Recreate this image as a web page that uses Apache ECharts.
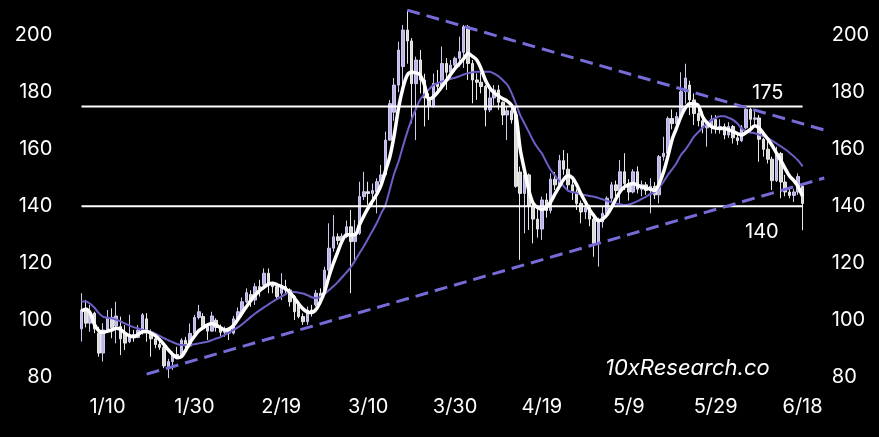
<!DOCTYPE html>
<html>
<head>
<meta charset="utf-8">
<script src="https://cdn.jsdelivr.net/npm/echarts@6/dist/echarts.min.js"></script>
<style>
html,body{margin:0;padding:0;background:#000;}
#chart{width:879px;height:437px;}
</style>
</head>
<body>
<div id="chart"></div>
<script>
// ---- data ----
const startDate = [2024, 0, 4];
const categoryCount = 173;
const xTickLabels = ['1/10','1/30','2/19','3/10','3/30','4/19','5/9','5/29','6/18'];
const yTicks = [80,100,120,140,160,180,200];
// [open, close, low, high]
const candles = [
[97,103.6,92.5,109.5],[104.2,99,97.5,107.1],[99,102.5,96,105.4],[102.5,97,95.5,103],[95.5,88.5,87.2,97.7],
[88.5,96.6,85.5,99],[96.6,101,96.6,103.6],[101,97.5,93.7,104.2],[98,101.5,91.9,106.5],[97.8,93.5,87.8,101.3],
[95.5,92,89.6,98.3],[92.5,95,92,101.9],[95,94,92.5,96.6],[94,96.5,93.7,98.3],[96.6,101.9,95,102.5],
[100.5,96.6,92.5,102.5],[95.5,93.5,87.2,96.8],[93.5,91.5,90.2,94.8],[91.5,90.5,89.6,93.1],[90.5,84,83.2,91.3],
[83.5,85.5,79.7,86.5],[85.5,88,82.6,89],[88,87.5,86.5,90.7],[87.5,93,87.2,93.7],[93,91,89.6,94.2],
[91,95.4,90.5,98.9],[95.4,101,95,101.9],[101,103,100.3,105.4],[101.3,97.8,96.6,102.5],[97.8,96.2,93.1,98.9],
[96.2,101.5,96,103],[100,97.5,96,100.7],[97.5,95.8,94.5,98.5],[95.8,96.8,94.2,97.8],[96.8,95.5,93.1,97.5],
[95.5,100.5,95,101.5],[100.5,103,99.8,104.5],[102.4,106.5,101.3,108],[106.5,109.7,106,111.2],[109,107,104.7,110.5],
[107.1,111.8,105.4,113],[111.8,111,108.3,114.2],[112.4,116.5,111.8,118.2],[116.5,113,109.5,118.2],[113,111.8,109.5,113.5],
[111.8,108.3,107.1,111.8],[109.5,111.8,107.1,116.5],[111.8,110.6,109.5,114.2],[110.6,106.5,104.8,111.2],[108.3,103,100.1,108.9],
[105.4,101.3,100.7,106.5],[101.3,99.5,98.4,102.4],[99.5,103.6,98.4,104.8],[103.6,102.5,101.3,105.4],[105.4,109.5,104.8,110.6],
[109.5,107.1,106.5,111.2],[110.6,117.6,109.5,118.8],[117.6,125.3,116.5,134],[125.3,129.3,124.1,136.9],[129.3,128,126.5,130.5],
[128,129.5,127.5,130.5],[129.3,132.8,128.8,135],[132.8,127.6,109.5,138.7],[127.6,130.5,121.2,135.2],[130.5,143.4,129.9,148.6],
[143.4,145.1,142.2,152.1],[145.1,144.5,140.5,148.6],[144.5,145.5,140.5,148],[145.1,148.6,137.5,149.8],[148.6,151,146.5,154.5],
[151,163.2,150.5,166.2],[163.2,176,163,177.3],[173,182.5,170,185],[182.5,194.8,180,197.7],[189,201.8,182,203.6],
[201.8,198,190,208.8],[198,183,169.1,199],[183,191.3,163.2,192.5],[191.3,184.3,179.6,194.8],[184.3,178,168,186.5],
[178,175,170.3,179.6],[175,183.1,174.5,186.6],[183.1,182,180,187.8],[182,190.1,181.5,196],[190.1,187,180.8,192],
[187,189.5,184.3,191.3],[189.5,191.9,187.2,192.5],[191.9,194.2,189,199.5],[194,203,188.5,203.6],[203,190.1,184.3,203.6],
[190.1,184.3,176.1,191.3],[184.3,183.5,177.3,186.6],[183.5,182,179.6,187.2],[182,173.8,168,182.5],[173.8,178,173,180.8],
[178,180.8,175.5,182.5],[180.8,176.5,173.8,182.5],[176.5,172,168.5,176.7],[172,173.5,163.2,175],[173.5,170.3,169,174.5],
[172,147,146.5,175],[152,144.5,121.2,153.9],[144.5,151,130.5,153.9],[151,140,131.7,151.5],[140,135.5,127,142.2],
[135.5,132,129,139],[132,142.2,128.2,143.4],[142.2,138.5,136,144.5],[138.5,149.5,137.5,151.5],[149.5,147.5,145.7,152],
[147.5,156,146.5,158],[156,153,151,159.7],[153,147.5,145.7,158.6],[147.5,145,142.2,149],[145,141,138.7,146],
[141,138,134,142],[138,139.5,135.5,141],[139.5,135.5,133,140.5],[135.5,127,122.3,136.3],[127,134.5,118.8,136],
[134.5,137.5,132.5,140],[137.5,142.8,136.5,143.5],[142.8,147.5,141.5,148.5],[147.5,145.5,143.5,149],[145.5,152.1,141,156.2],
[152.1,148,145.7,158.6],[148,145,142,149.5],[145,152.1,144.5,153],[152.1,146,144.5,154],[146,147.5,143.5,149],
[147.5,145.5,144,148.5],[145.5,147,137.5,149.8],[147,144,142.5,148.5],[144,157.4,141,158],[157.4,158.6,156,164.4],
[158.6,170.8,157.5,171.5],[170.8,169,167,174],[169,171.5,166,173],[171.5,180.2,170,187],[180.2,185,176,190],
[182.5,177.3,172,184],[177.3,172.5,168.5,179.6],[172.5,170,168,174.5],[170,167.5,165.6,173.2],[167.5,168.5,160.9,169.7],
[168.5,170.5,165.5,172],[170.5,167.5,165.5,172],[167.5,168,165.5,170.5],[168,165,163.5,169],[165,168,164,169.5],
[168,164,162,168.5],[164,163,161.5,166],[163,167.5,162.5,168.5],[167.5,174,167,175],[174,170.5,165.6,174.5],
[170.5,171,168,173.8],[171,163.5,155.6,172],[163.5,160,157.4,164],[160,156.5,155,163.5],[156.5,149,145.7,157.4],
[149,158.5,148.5,160.9],[158.5,148.5,142.8,159],[148.5,145,143.5,151],[145,143.8,142.8,146.3],[143.8,145,141.5,146],
[145,150.4,144,151.5],[147,141,131.6,148]
];
const fastAvg = [
103.3,103.9,102.6,98.5,96.3,95.8,96.2,96.6,97.2,96.8,
95.5,94.6,94.2,95.0,96.0,96.1,95.5,94.6,93.2,91.5,
89.6,88.0,86.9,87.2,89.5,92.2,94.4,96.3,97.4,98.4,
98.9,98.3,97.4,96.6,97.0,98.2,100.3,102.6,104.8,107.0,
108.8,110.4,111.6,112.6,113.0,112.5,111.9,111.0,109.8,107.8,
105.8,104.0,102.9,102.7,103.8,106.5,110.2,115.5,120.0,124.0,
127.8,130.0,130.0,130.0,133.5,136.6,139.4,141.8,144.3,147.5,
152.5,157.4,165.0,174.5,181.5,186.0,187.0,186.8,186.0,182.3,
177.6,178.4,180.0,182.0,184.1,186.3,188.4,190.0,191.8,193.6,
192.6,191.3,188.2,184.2,181.5,179.8,178.7,177.7,176.9,175.5,
172.0,160.0,152.5,145.5,141.0,139.5,138.9,139.5,141.5,144.3,
146.9,149.4,150.8,150.0,147.5,144.3,141.5,138.7,136.6,134.9,
135.5,137.0,139.5,142.5,145.2,146.8,147.6,148.0,147.3,146.8,
146.4,146.0,145.5,148.0,152.0,157.5,163.5,167.5,171.5,174.5,
176.0,176.0,175.3,171.4,169.3,168.0,167.4,167.3,167.3,166.8,
166.2,165.5,165.0,165.9,167.0,168.2,167.4,165.5,163.6,161.3,
158.6,156.0,153.2,150.6,149.0,146.8,143.5
];
const slowAvg = [
106.6,106.6,105.8,104.4,102.5,101.2,100.9,100.7,100.2,99.6,
98.9,98.2,97.6,97.1,96.7,96.4,96.0,95.3,94.5,93.7,
93.0,92.3,91.7,91.3,91.3,91.4,91.6,91.9,92.2,92.5,
93.0,93.6,94.1,94.9,95.8,96.6,97.5,98.6,99.9,101.2,
102.4,103.5,104.5,105.5,106.5,107.4,108.3,109.2,110.0,109.9,
109.7,109.4,108.8,108.1,107.8,108.2,109.2,110.6,111.9,113.4,
115.1,116.8,118.6,121.0,123.5,126.0,128.7,131.4,134.2,137.5,
140.5,146.0,151.5,155.7,161.0,166.0,170.5,174.2,177.5,179.3,
181.0,182.5,183.2,183.8,184.3,184.7,185.1,185.6,186.2,186.7,
187.0,187.2,187.2,187.2,187.2,186.5,185.6,184.2,182.7,179.8,
176.0,172.0,169.0,166.0,163.0,160.5,158.5,155.5,152.8,150.8,
148.8,147.0,145.5,145.0,144.6,144.2,143.9,143.6,143.3,142.9,
142.4,141.9,141.4,141.0,140.7,140.4,140.6,141.1,141.8,142.6,
143.4,144.3,145.0,146.6,148.6,151.0,153.0,155.2,158.0,159.8,
162.0,164.4,166.0,167.6,169.0,170.2,171.0,171.6,171.6,171.0,
170.3,169.0,167.3,166.3,165.9,165.6,165.1,164.5,163.9,163.0,
162.0,161.0,160.0,158.8,157.5,156.0,154.0
];
const levels = [175, 140];
const levelSpan = ['1/4', '6/18'];
const upperTrend = [['3/19', 208.8], ['6/24', 166.3]];
const lowerTrend = [['1/19', 81.1], ['6/23', 149.9]];
const watermark = '10xResearch.co';

// ---- build ----
const dates = [];
for (let i = 0; i < categoryCount; i++) {
  const d = new Date(Date.UTC(startDate[0], startDate[1], startDate[2] + i));
  dates.push((d.getUTCMonth() + 1) + '/' + d.getUTCDate());
}
const FONT = 'Inter, "Noto Sans", sans-serif';
const yLabel = {
  color: '#ffffff', fontSize: 20, fontFamily: FONT,
  formatter: v => (yTicks.indexOf(v) >= 0 ? String(v) : '')
};
const chart = echarts.init(document.getElementById('chart'), null, {renderer: 'canvas'});
const dashStyle = {color: '#766cd8', width: 3, type: [13, 7]};
chart.setOption({
  backgroundColor: '#000000',
  animation: false,
  grid: {left: 79.3, right: 48.2, top: 6.7, bottom: 59.7},
  xAxis: {
    type: 'category', data: dates, boundaryGap: true,
    axisLine: {show: false}, axisTick: {show: false}, splitLine: {show: false},
    axisLabel: {
      color: '#ffffff', fontSize: 20, fontFamily: FONT, margin: 20,
      interval: (i, v) => xTickLabels.indexOf(v) >= 0
    }
  },
  yAxis: [
    {type: 'value', min: 80, max: 210, interval: 20, position: 'left',
     axisLine: {show: false}, axisTick: {show: false}, splitLine: {show: false},
     axisLabel: Object.assign({margin: 27}, yLabel)},
    {type: 'value', min: 80, max: 210, interval: 20, position: 'right',
     axisLine: {show: false}, axisTick: {show: false}, splitLine: {show: false},
     axisLabel: Object.assign({margin: 1}, yLabel)}
  ],
  series: [
    {type: 'candlestick', data: candles, barWidth: 3,
     itemStyle: {color: '#bbb6ea', color0: '#dadada', borderColor: '#cdc9f0', borderColor0: '#e8e8e8', borderWidth: 1}},
    {type: 'line', data: slowAvg, symbol: 'none', smooth: 0.3,
     lineStyle: {color: '#6a60c8', width: 2}},
    {type: 'line', data: levelSpan.map(d => [d, levels[0]]), symbol: 'none',
     lineStyle: {color: '#ffffff', width: 2}},
    {type: 'line', data: levelSpan.map(d => [d, levels[1]]), symbol: 'none',
     lineStyle: {color: '#ffffff', width: 2}},
    {type: 'line', data: upperTrend, symbol: 'none', lineStyle: dashStyle},
    {type: 'line', data: lowerTrend, symbol: 'none', lineStyle: dashStyle},
    {type: 'line', data: fastAvg, symbol: 'none', smooth: 0.3,
     lineStyle: {color: '#ffffff', width: 3.5}}
  ],
  graphic: [
    {type: 'text', left: 752, top: 83, style: {text: String(levels[0]), fill: '#ffffff', font: '20px ' + FONT}},
    {type: 'text', left: 745, top: 222, style: {text: String(levels[1]), fill: '#ffffff', font: '20px ' + FONT}},
    {type: 'text', left: 605, top: 357, style: {text: watermark, fill: '#ffffff', font: 'italic 400 22px ' + FONT}}
  ]
});
</script>
</body>
</html>
